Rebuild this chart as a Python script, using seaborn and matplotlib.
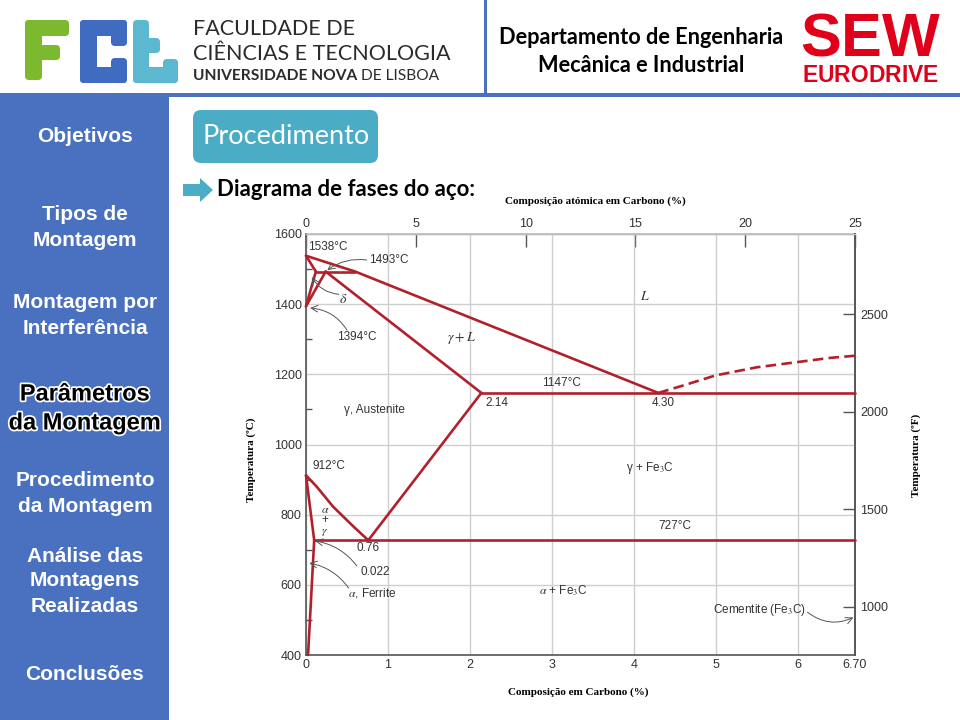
import matplotlib
matplotlib.use("Agg")
import matplotlib.pyplot as plt
import matplotlib.patheffects as pe
from matplotlib.patches import Rectangle, FancyBboxPatch, Polygon
import numpy as np
import pandas as pd
import seaborn as sns

# ---------------- data (wt% C, temperature in degC) ----------------
liquidus_wt = [0.0, 0.60, 4.30]
liquidus_T = [1538, 1493, 1147]
delta_solidus_wt = [0.0, 0.12]
delta_solidus_T = [1538, 1493]
peritectic_wt = [0.12, 0.60]
peritectic_T = [1493, 1493]
delta_gamma_wt = [0.12, 0.0]
delta_gamma_T = [1493, 1394]
gamma_delta_wt = [0.24, 0.0]
gamma_delta_T = [1493, 1394]
gamma_solidus_wt = [0.24, 2.14]
gamma_solidus_T = [1493, 1147]
eutectic_wt = [2.14, 6.70]
eutectic_T = [1147, 1147]
acm_wt = [2.14, 0.76]
acm_T = [1147, 727]
a3_wt = [0.0, 0.13, 0.33, 0.58, 0.76]
a3_T = [912, 880, 823, 766, 727]
alpha_upper_wt = [0.0, 0.10]
alpha_upper_T = [912, 727]
eutectoid_wt = [0.10, 6.70]
eutectoid_T = [727, 727]
alpha_lower_wt = [0.10, 0.025]
alpha_lower_T = [727, 400]
hyper_liquidus_wt = [4.30, 4.6, 5.0, 5.5, 6.0, 6.4, 6.70]
hyper_liquidus_T = [1147, 1168, 1197, 1220, 1235, 1247, 1253]

wt_ticks = [0, 1, 2, 3, 4, 5, 6, 6.70]
wt_labels = ["0", "1", "2", "3", "4", "5", "6", "6.70"]
at_ticks = [0, 5, 10, 15, 20, 25]
c_ticks = [400, 600, 800, 1000, 1200, 1400, 1600]
c_minor = [500, 700, 900, 1100, 1300, 1500]
f_ticks = [1000, 1500, 2000, 2500]

sidebar_lines = [
    ("Objetivos", 137), ("Tipos de", 215), ("Montagem", 241),
    ("Montagem por", 303), ("Interferência", 329),
    ("Procedimento", 481), ("da Montagem", 506),
    ("Análise das", 556), ("Montagens", 581), ("Realizadas", 607),
    ("Conclusões", 674),
]
sidebar_active = [("Parâmetros", 394), ("da Montagem", 423)]

solid_curves = {
    "liquidus": (liquidus_wt, liquidus_T),
    "delta_solidus": (delta_solidus_wt, delta_solidus_T),
    "peritectic": (peritectic_wt, peritectic_T),
    "delta_gamma": (delta_gamma_wt, delta_gamma_T),
    "gamma_delta": (gamma_delta_wt, gamma_delta_T),
    "gamma_solidus": (gamma_solidus_wt, gamma_solidus_T),
    "eutectic": (eutectic_wt, eutectic_T),
    "acm": (acm_wt, acm_T),
    "a3": (a3_wt, a3_T),
    "alpha_upper": (alpha_upper_wt, alpha_upper_T),
    "eutectoid": (eutectoid_wt, eutectoid_T),
    "alpha_lower": (alpha_lower_wt, alpha_lower_T),
}
solid_df = pd.concat(
    [pd.DataFrame({"wt": w, "T": t, "curve": k}) for k, (w, t) in solid_curves.items()],
    ignore_index=True)
dash_df = pd.DataFrame({"wt": hyper_liquidus_wt, "T": hyper_liquidus_T, "curve": "hyper"})

# ---------------- style ----------------
sns.set_theme(style="white")
plt.rcParams["font.family"] = ["Liberation Sans", "DejaVu Sans"]
plt.rcParams["mathtext.fontset"] = "stix"
plt.rcParams["mathtext.bf"] = "Liberation Sans:bold"
plt.rcParams["mathtext.rm"] = "Liberation Sans"

BLUE = "#4A71BF"
TEAL = "#4BACC6"
RED = "#B2202C"
GREY = "#333333"

fig = plt.figure(figsize=(9.6, 7.2), dpi=100)
bg = fig.add_axes([0, 0, 1, 1], zorder=0)
bg.set_xlim(0, 960)
bg.set_ylim(720, 0)
bg.axis("off")

# header separators and sidebar
bg.add_patch(Rectangle((0, 93), 960, 4, color=BLUE, lw=0))
bg.add_patch(Rectangle((0, 95), 169, 625, color=BLUE, lw=0))
bg.add_patch(Rectangle((484, 0), 2.5, 95, color=BLUE, lw=0))

# FCT logo (blocky letters)
def block(x, y, w, h, c, r=4):
    bg.add_patch(FancyBboxPatch((x, y), w, h, boxstyle=f"round,pad=0,rounding_size={r}",
                                color=c, lw=0))

G, B2, T2 = "#7DB92E", "#3F6CC0", "#5BB8D0"
block(25, 20, 17, 60, G)
block(25, 20, 44, 16, G)
block(25, 45, 35, 15, G)
block(80, 20, 17, 63, B2)
block(80, 20, 47, 16, B2)
block(80, 67, 47, 16, B2)
block(111, 20, 16, 26, B2)
block(111, 58, 16, 25, B2)
block(133, 20, 16, 63, T2)
block(133, 38, 27, 15, T2)
block(133, 67, 45, 16, T2)
block(163, 59, 15, 24, T2)

def txt(x, y, s, size, color="black", family="Lato", weight="normal", ha="center",
        va="center", **kw):
    return bg.text(x, y, s, fontsize=size, color=color, family=[family, "DejaVu Sans"],
                   fontweight=weight, ha=ha, va=va, **kw)

txt(193, 29, "FACULDADE DE", 15.5, color="#2b2b2b", family="Lato", ha="left")
txt(193, 54, "CIÊNCIAS E TECNOLOGIA", 15.5, color="#2b2b2b", family="Lato", ha="left")
unl = txt(193, 76, "UNIVERSIDADE NOVA", 11.2, color="#2b2b2b", family="Lato", weight="bold",
          ha="left")
bg.annotate("DE LISBOA", xy=(1, 0.5), xycoords=unl, xytext=(3, 0), textcoords="offset points",
            fontsize=11.2, color="#2b2b2b", family=["Lato", "DejaVu Sans"], ha="left",
            va="center")

txt(641, 38, "Departamento de Engenharia", 15.7, weight="bold")
txt(641, 66, "Mecânica e Industrial", 15.7, weight="bold")

SEWRED = "#E1001A"
bg.text(871, 40, r"$\mathbf{SEW}$", fontsize=44, color=SEWRED, ha="center", va="center",
        math_fontfamily="custom")
bg.text(871, 76, r"$\mathbf{EURODRIVE}$", fontsize=16.5, color=SEWRED, ha="center",
        va="center", math_fontfamily="custom")

# sidebar menu
for s, y in sidebar_lines:
    txt(85, y, s, 15, color="white", family="Liberation Sans", weight="bold")
for s, y in sidebar_active:
    txt(85, y, s, 17, color="black", family="Liberation Sans", weight="bold",
        path_effects=[pe.withStroke(linewidth=2.5, foreground="white")])

# Procedimento tab
bg.add_patch(FancyBboxPatch((193, 110), 185, 53, boxstyle="round,pad=0,rounding_size=8",
                            color=TEAL, lw=0))
txt(286, 136, "Procedimento", 19.5, color="white", family="Lato")
bg.add_patch(Polygon([(183, 184), (200, 184), (200, 178), (213, 190), (200, 202),
                      (200, 196), (183, 196)], closed=True, color=TEAL, lw=0))
txt(217, 189, "Diagrama de fases do aço:", 16, family="Lato", weight="bold", ha="left")

# axis titles of the diagram
txt(595, 201, "Composição atómica em Carbono (%)", 8, family="Liberation Serif", weight="bold")
txt(578, 692, "Composição em Carbono (%)", 8, family="Liberation Serif", weight="bold")
txt(251, 460, "Temperatura (ºC)", 8, family="Liberation Serif", weight="bold", rotation=90)
txt(916, 455, "Temperatura (ºF)", 8, family="Liberation Serif", weight="bold", rotation=90)

# ---------------- phase diagram ----------------
ax = fig.add_axes([306 / 960, 1 - 655 / 720, 549 / 960, 421 / 720], zorder=2)
ax.set_facecolor("white")
sns.lineplot(data=solid_df, x="wt", y="T", units="curve", estimator=None, sort=False,
             color=RED, linewidth=1.9, ax=ax, legend=False, clip_on=False, zorder=3)
sns.lineplot(data=dash_df, x="wt", y="T", units="curve", estimator=None, sort=False,
             color=RED, linewidth=1.9, ax=ax, legend=False, linestyle=(0, (4, 2)), zorder=3)
ax.set_xlim(0, 6.70)
ax.set_ylim(400, 1600)
ax.set_xlabel("")
ax.set_ylabel("")
ax.set_xticks(wt_ticks)
ax.set_xticklabels(wt_labels)
ax.set_yticks(c_ticks)
ax.set_yticks(c_minor, minor=True)
ax.set_axisbelow(True)
ax.grid(True, which="major", color="#cfcfcf", lw=1.0)
for side in ["left", "bottom", "right"]:
    ax.spines[side].set_color("#555555")
    ax.spines[side].set_linewidth(1.2)
ax.spines["top"].set_color("#bdbdbd")
ax.spines["top"].set_linewidth(1.0)
ax.tick_params(axis="x", which="major", direction="in", length=9.4, width=1.0,
               color="#555555", labelsize=9, labelcolor=GREY, pad=3)
ax.tick_params(axis="y", which="major", direction="in", length=8.6, width=1.0,
               color="#555555", labelsize=9, labelcolor=GREY, pad=3)
ax.tick_params(axis="y", which="minor", direction="in", length=4.3, width=1.0,
               color="#555555", left=True)

secx = ax.secondary_xaxis("top", functions=(lambda w: w * 25 / 6.70, lambda a: a * 6.70 / 25))
secx.set_xticks(at_ticks)
secx.tick_params(direction="in", length=9.4, width=1.0, color="#555555", labelsize=9,
                 labelcolor=GREY, pad=3)
secx.spines["top"].set_color("#bdbdbd")

secy = ax.secondary_yaxis("right", functions=(lambda c: c * 1.8 + 32, lambda f: (f - 32) / 1.8))
secy.set_yticks(f_ticks)
secy.tick_params(direction="in", length=9.0, width=1.0, color="#555555", labelsize=9,
                 labelcolor=GREY, pad=4)
secy.spines["right"].set_color("#555555")

# annotations
AK = dict(fontsize=8.5, color=GREY)
ax.text(0.02, 1563, "1538°C", ha="left", va="center", **AK)
ax.text(0.77, 1526, "1493°C", ha="left", va="center", **AK)
ax.text(0.45, 1414, r"$\delta$", ha="center", va="center", fontsize=10, color=GREY)
ax.text(0.62, 1306, "1394°C", ha="center", va="center", **AK)
ax.text(1.90, 1303, r"$\gamma + L$", ha="center", va="center", fontsize=10, color=GREY)
ax.text(4.14, 1423, r"$L$", ha="center", va="center", fontsize=10, color=GREY)
ax.text(3.12, 1175, "1147°C", ha="center", va="center", **AK)
ax.text(2.33, 1118, "2.14", ha="center", va="center", **AK)
ax.text(4.36, 1118, "4.30", ha="center", va="center", **AK)
ax.text(0.83, 1098, "γ, Austenite", ha="center", va="center", **AK)
ax.text(0.28, 939, "912°C", ha="center", va="center", **AK)
ax.text(0.23, 782, "$\\alpha$\n+\n$\\gamma$", ha="center", va="center", linespacing=0.85,
        multialignment="center", **AK)
ax.text(0.76, 705, "0.76", ha="center", va="center", **AK)
ax.text(0.84, 636, "0.022", ha="center", va="center", **AK)
ax.text(0.81, 577, r"$\alpha$, Ferrite", ha="center", va="center", **AK)
ax.text(4.20, 933, "γ + Fe$_3$C", ha="center", va="center", **AK)
ax.text(4.50, 768, "727°C", ha="center", va="center", **AK)
ax.text(3.14, 582, r"$\alpha$ + Fe$_3$C", ha="center", va="center", **AK)
ax.text(5.54, 528, "Cementite (Fe$_3$C)", ha="center", va="center", **AK)

ARW = dict(arrowstyle="->", color="#555555", lw=0.7, shrinkA=0, shrinkB=0)
ax.annotate("", xy=(0.26, 1497), xytext=(0.74, 1526),
            arrowprops=dict(ARW, connectionstyle="arc3,rad=0.2"))
ax.annotate("", xy=(0.07, 1477), xytext=(0.40, 1428),
            arrowprops=dict(ARW, connectionstyle="arc3,rad=-0.25"))
ax.annotate("", xy=(0.05, 1389), xytext=(0.50, 1326),
            arrowprops=dict(ARW, connectionstyle="arc3,rad=0.25"))
ax.annotate("", xy=(0.11, 725), xytext=(0.62, 654),
            arrowprops=dict(ARW, connectionstyle="arc3,rad=0.2"))
ax.annotate("", xy=(0.04, 662), xytext=(0.52, 591),
            arrowprops=dict(ARW, connectionstyle="arc3,rad=0.2"))
ax.annotate("", xy=(6.68, 507), xytext=(6.12, 522),
            arrowprops=dict(ARW, connectionstyle="arc3,rad=0.3"))

fig.savefig("out.png", dpi=100, facecolor="white")
